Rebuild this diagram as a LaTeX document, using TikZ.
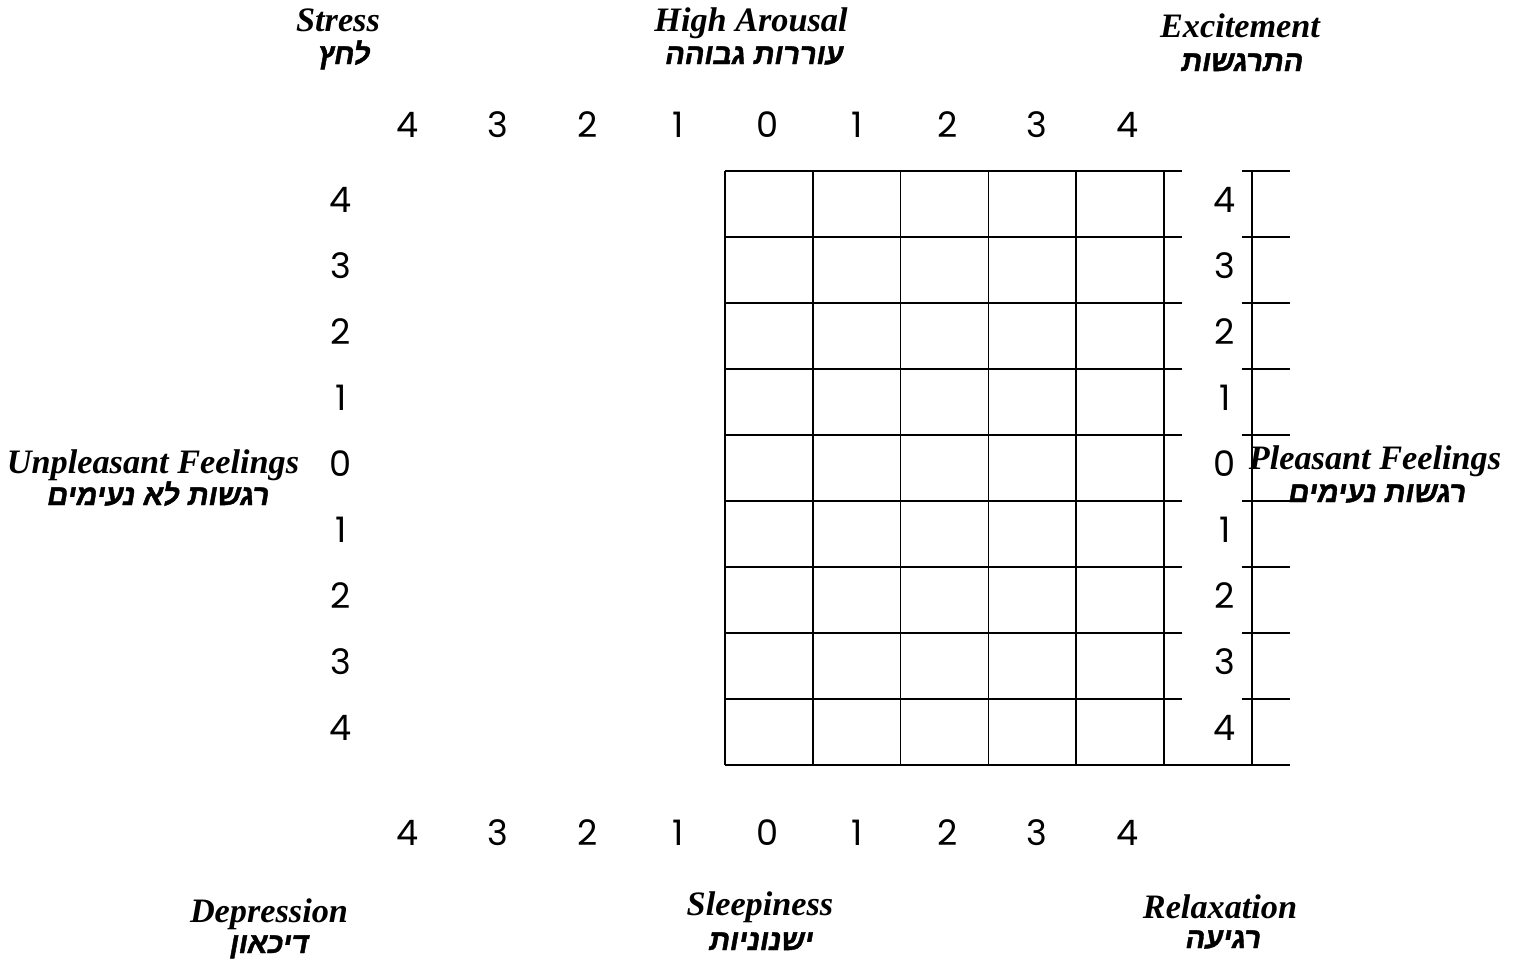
\documentclass[tikz,border=0pt]{standalone}
\usepackage{fontspec}
\setmainfont{Liberation Serif}
\newfontfamily\numfont{Poppins}
\newfontfamily\hebfont[Script=Hebrew, FakeSlant=0.18, FakeBold=1.5]{Liberation Sans Bold}
\TeXXeTstate=1
\usetikzlibrary{positioning}
\newcommand{\heb}[1]{\beginR #1\endR}
\tikzset{
  numlbl/.style={anchor=base, inner sep=0pt, font=\numfont\fontsize{20}{24}\selectfont},
  englbl/.style={anchor=base, inner sep=0pt, font=\fontsize{19.5}{22}\selectfont\bfseries\itshape},
  heblbl/.style={anchor=base, inner sep=0pt, font=\hebfont\fontsize{16.5}{20}\selectfont},
  gridline/.style={line width=0.9pt}
}

\begin{document}
\begin{tikzpicture}[x=0.02cm, y=-0.02cm]
  \useasboundingbox (0,0) rectangle (1518,964);
  \def\gl{725}
  \def\gt{171}
  \def\cw{87.8}
  \def\rh{66}

  % grid
  \foreach \i in {0,...,5}
    \draw[gridline] ({\gl+\cw*\i},\gt) -- ({\gl+\cw*\i},765);
  \foreach \j in {0,...,8} {
    \draw[gridline] (\gl,{\gt+\rh*\j}) -- (1182,{\gt+\rh*\j});
    \draw[gridline] (1242,{\gt+\rh*\j}) -- (1290,{\gt+\rh*\j});
  }
  \draw[gridline] (\gl,765) -- (1290,765);
  \draw[gridline] (1252,\gt) -- (1252,765);

  % scales
  \foreach \i [evaluate=\i as \v using {int(abs(4-\i))}] in {0,...,8} {
    \node[numlbl] (top\i) at ({408+89.9*\i},137) {\v};
    \node[numlbl] (bot\i) at ({408+89.9*\i},845) {\v};
    \node[numlbl] (lft\i) at (341,{212+\rh*\i}) {\v};
    \node[numlbl] (rgt\i) at (1225,{212+\rh*\i}) {\v};
  }

  % labels
  \node[englbl] (stress) at (338,31) {Stress};
  \node[heblbl] (stressheb) at (343,64) {\heb{לחץ}};
  \node[englbl] (high) at (751,31) {High Arousal};
  \node[heblbl] (highheb) at (753,64) {\heb{עוררות גבוהה}};
  \node[englbl] (excite) at (1240,37) {Excitement};
  \node[heblbl] (exciteheb) at (1241,71) {\heb{התרגשות}};
  \node[englbl] (unpleas) at (153,473) {Unpleasant Feelings};
  \node[heblbl] (unpleasheb) at (157,505) {\heb{רגשות לא נעימים}};
  \node[englbl] (pleas) at (1375,469) {Pleasant Feelings};
  \node[heblbl] (pleasheb) at (1376,502) {\heb{רגשות נעימים}};
  \node[englbl] (depress) at (269,922) {Depression};
  \node[heblbl] (depressheb) at (268,953) {\heb{דיכאון}};
  \node[englbl] (sleep) at (760,915) {Sleepiness};
  \node[heblbl] (sleepheb) at (760,950) {\heb{ישנוניות}};
  \node[englbl] (relax) at (1220,918) {Relaxation};
  \node[heblbl] (relaxheb) at (1222,948) {\heb{רגיעה}};
\end{tikzpicture}
\end{document}
